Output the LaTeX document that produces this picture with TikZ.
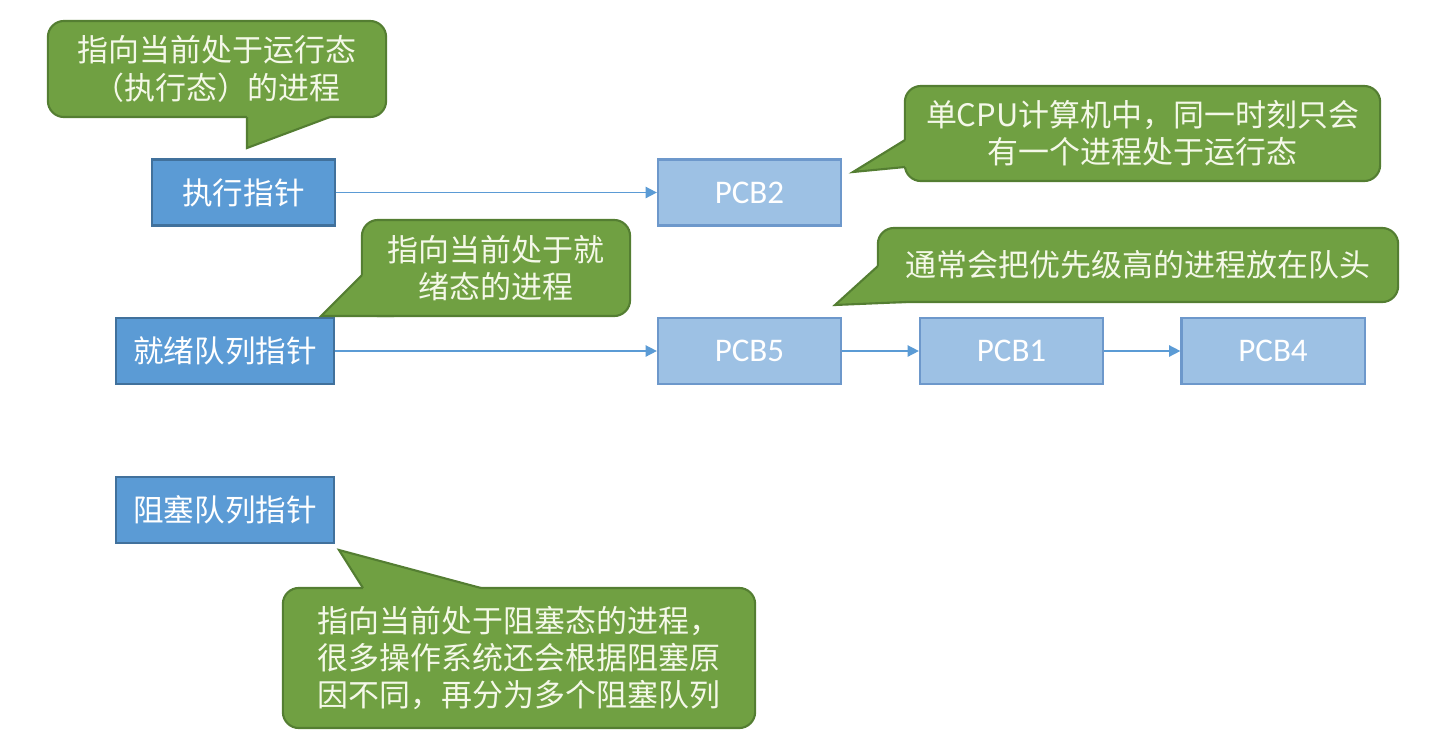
\documentclass[tikz,border=0pt]{standalone}
\usepackage{fontspec}
\newfontfamily\cjk{Noto Sans CJK SC}
\newfontfamily\latin{Carlito}
\usetikzlibrary{arrows.meta}
\tikzset{
every picture/.style={
line width=0.6pt
}}
\definecolor{ptrblue}{RGB}{91,155,213}
\definecolor{ptrline}{RGB}{65,113,156}
\definecolor{pcbblue}{RGB}{157,193,228}
\definecolor{pcbline}{RGB}{109,152,203}
\definecolor{tipgreen}{RGB}{112,160,66}
\definecolor{tipline}{RGB}{84,126,50}
\definecolor{tiptext}{RGB}{244,248,232}

\begin{document}
\begin{tikzpicture}[x=0.01cm, y=-0.01cm,
ptr/.style = {rectangle, draw=ptrline, fill=ptrblue, minimum height=0.66cm, inner sep=0pt, text=white, font=\cjk\fontsize{8.7}{10}\selectfont},
pcb/.style = {rectangle, draw=pcbline, fill=pcbblue, minimum width=1.83cm, minimum height=0.66cm, inner sep=0pt, text=white, font=\latin\fontsize{9.4}{10}\selectfont},
note/.style = {rectangle, rounded corners=0.16cm, draw=tipline, fill=tipgreen, inner sep=0pt, align=center, text=tiptext, font=\cjk\fontsize{8.8}{10.6}\selectfont},
link/.style = {draw=ptrblue, line width=0.45pt, -{Triangle[length=3.2pt, width=3.2pt]}}]
\useasboundingbox (0,0) rectangle (1436,742);

% pointers and queues
\node [ptr, minimum width=1.83cm] at (243.5,192.5) (run) {执行指针};
\node [ptr, minimum width=2.18cm] at (225,351) (ready) {就绪队列指针};
\node [ptr, minimum width=2.18cm] at (225,510) (block) {阻塞队列指针};
\node [pcb] at (749.5,192.5) (pcb2) {PCB2};
\node [pcb] at (749.5,351) (pcb5) {PCB5};
\node [pcb] at (1011.5,351) (pcb1) {PCB1};
\node [pcb] at (1273,351) (pcb4) {PCB4};
\draw [link] (run) -- (pcb2);
\draw [link] (ready) -- (pcb5);
\draw [link] (pcb5) -- (pcb1);
\draw [link] (pcb1) -- (pcb4);

% callouts
\node [note, minimum width=3.38cm, minimum height=0.96cm] at (217,69) (n1) {指向当前处于运行态\\（执行态）的进程};
\fill [tipgreen] (247,110) -- (247,117) -- (247,148) -- (330,117) -- (330,110) -- cycle;
\draw [tipline] (247,117) -- (247,148) -- (330,117);

\node [note, minimum width=4.75cm, minimum height=0.95cm] at (1142.5,133.5) (n2) {单CPU计算机中，同一时刻只会\\有一个进程处于运行态};
\fill [tipgreen] (911,140) -- (905,140) -- (853,172) -- (905,167) -- (911,167) -- cycle;
\draw [tipline] (905,140) -- (853,172) -- (905,167);

\node [note, minimum width=2.68cm, minimum height=0.96cm] at (496,268) (n3) {指向当前处于就\\绪态的进程};
\fill [tipgreen] (368,275) -- (362,275) -- (321,316) -- (394,316) -- (394,309) -- cycle;
\draw [tipline] (362,275) -- (321,316) -- (394,316);

\node [note, minimum width=5.2cm, minimum height=0.74cm] at (1138,265) (n4) {通常会把优先级高的进程放在队头};
\fill [tipgreen] (884,266) -- (878,266) -- (835,305) -- (906,302) -- (906,295) -- cycle;
\draw [tipline] (878,266) -- (835,305) -- (906,302);

\node [note, minimum width=4.72cm, minimum height=1.4cm] at (519,658) (n5) {指向当前处于阻塞态的进程，\\很多操作系统还会根据阻塞原\\因不同，再分为多个阻塞队列};
\fill [tipgreen] (363,594) -- (363,588) -- (339,550) -- (481,588) -- (481,594) -- cycle;
\draw [tipline] (363,588) -- (339,550) -- (481,588);

\end{tikzpicture}
\end{document}
